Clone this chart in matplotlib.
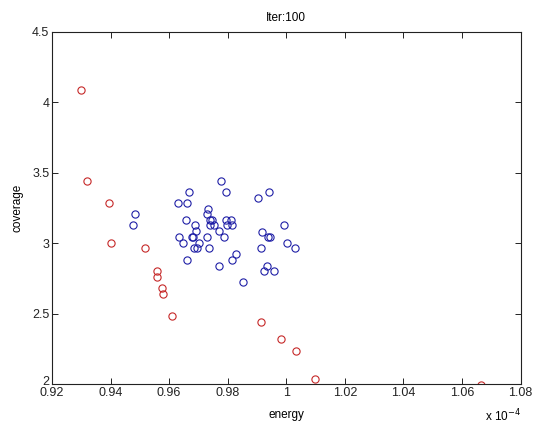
import matplotlib
matplotlib.use("Agg")
import matplotlib.pyplot as plt
from matplotlib.transforms import ScaledTranslation

# energy in units of 1e-4
red_x = [0.9299, 0.9321, 0.9395, 0.9401, 0.9517, 0.9559, 0.9559, 0.9576, 0.9580,
         0.9609, 0.9913, 0.9981, 1.0032, 1.0099, 1.0664]
red_y = [4.084, 3.439, 3.285, 3.000, 2.964, 2.803, 2.761, 2.685, 2.643,
         2.482, 2.442, 2.319, 2.239, 2.040, 1.998]

blue_x = [0.9484, 0.9476, 0.9631, 0.9660, 0.9668, 0.9778, 0.9793, 0.9903, 0.9941,
          0.9656, 0.9687, 0.9691, 0.9635, 0.9649, 0.9678, 0.9682, 0.9701, 0.9685,
          0.9694, 0.9660, 0.9734, 0.9730, 0.9740, 0.9745, 0.9740, 0.9753, 0.9771,
          0.9787, 0.9730, 0.9735, 0.9771, 0.9795, 0.9812, 0.9798, 0.9816, 0.9830,
          0.9814, 0.9854, 0.9918, 0.9913, 0.9937, 0.9944, 0.9992, 1.0003, 1.0030,
          0.9934, 0.9925, 0.9959]
blue_y = [3.205, 3.127, 3.285, 3.285, 3.366, 3.439, 3.366, 3.323, 3.366,
          3.163, 3.127, 3.085, 3.044, 3.000, 3.044, 3.044, 3.002, 2.964,
          2.964, 2.884, 3.243, 3.205, 3.165, 3.165, 3.130, 3.127, 3.085,
          3.044, 3.044, 2.964, 2.839, 3.163, 3.163, 3.127, 3.127, 2.922,
          2.884, 2.723, 3.082, 2.964, 3.044, 3.044, 3.127, 3.002, 2.964,
          2.841, 2.801, 2.801]

xticks = [0.92, 0.94, 0.96, 0.98, 1.0, 1.02, 1.04, 1.06, 1.08]
xticklabels = ["0.92", "0.94", "0.96", "0.98", "1", "1.02", "1.04", "1.06", "1.08"]
yticks = [2, 2.5, 3, 3.5, 4, 4.5]
yticklabels = ["2", "2.5", "3", "3.5", "4", "4.5"]

plt.rcParams['font.family'] = ['Liberation Sans', 'DejaVu Sans']

fig = plt.figure(figsize=(5.33, 4.28), dpi=100)
ax = fig.add_axes([52 / 533, 1 - 384.3 / 428, (520.5 - 52) / 533, (384.3 - 31.7) / 428])

ax.plot(blue_x, blue_y, 'o', mfc='none', mec='#1f1fa6', ms=5.2, mew=0.8, linestyle='none')
ax.plot(red_x, red_y, 'o', mfc='none', mec='#c62828', ms=5.2, mew=0.8, linestyle='none')

ax.set_xlim(0.92, 1.08)
ax.set_ylim(2, 4.5)
ax.set_xticks(xticks)
ax.set_xticklabels(xticklabels)
ax.set_yticks(yticks)
ax.set_yticklabels(yticklabels)
ax.tick_params(direction='in', top=True, right=True, length=4, width=0.7,
               labelsize=9, colors='#222222', pad=2)
for s in ax.spines.values():
    s.set_linewidth(0.8)
    s.set_color('#222222')

# nudge the lowest y label up a little so it sits just above the "0.92" label
lbl = ax.get_yticklabels()[0]
lbl.set_transform(lbl.get_transform() + ScaledTranslation(0, 3 / 72, fig.dpi_scale_trans))

ax.set_xlabel("energy", fontsize=8.5, labelpad=7)
ax.set_ylabel("coverage", fontsize=8.5, labelpad=6)
ax.set_title("Iter:100", fontsize=8.5, pad=8)
fig.text(485 / 533, 1 - 424 / 428, r"x 10$^{-4}$", fontsize=8.5, ha='left', va='bottom')

fig.savefig("out.png", dpi=100)
